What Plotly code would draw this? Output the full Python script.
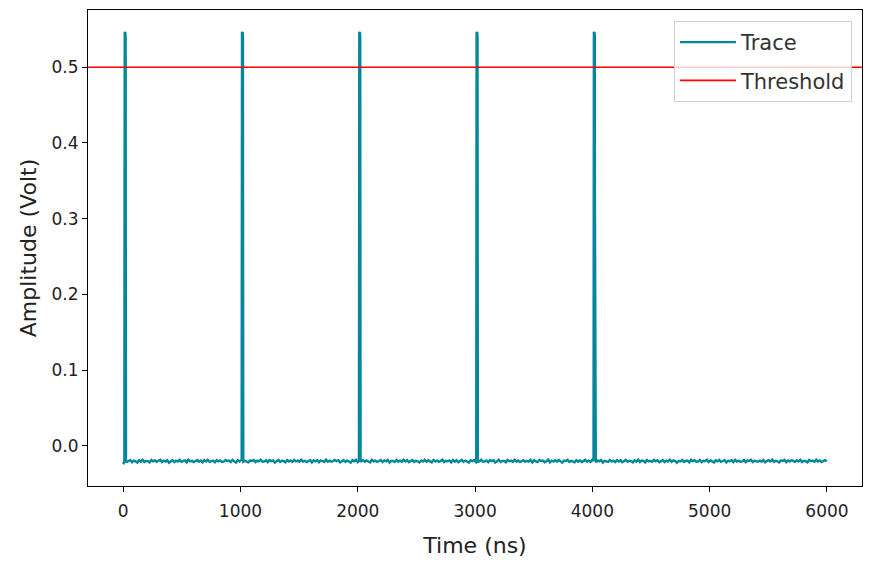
import numpy as np
import plotly.graph_objects as go

baseline_mv = [
    -24.5, -19.4, -21.3, -20.1, -18.8, -21.7, -19.6, -20.4, -22.1, -19.0, -20.8, -18.5, -21.2, -19.9, -20.3, -21.8, -18.7, -20.6, -19.3, -21.0,
    -20.2, -18.4, -21.5, -19.7, -20.9, -19.1, -22.3, -20.0, -18.9, -21.4, -19.5, -20.7, -18.6, -21.1, -20.4, -19.2, -21.9, -18.3, -20.5, -19.8,
    -21.6, -20.1, -18.8, -20.9, -19.4, -22.0, -19.0, -20.6, -18.5, -21.3, -20.2, -19.6, -21.7, -18.9, -20.4, -19.3, -21.2, -20.8, -18.6, -20.0,
    -19.5, -21.5, -18.7, -20.3, -22.2, -19.1, -20.7, -18.4, -21.0, -19.9, -20.5, -21.8, -19.2, -20.1, -18.8, -21.4, -19.7, -20.6, -18.3, -21.1,
    -20.9, -19.0, -21.6, -18.9, -20.2, -19.4, -22.1, -20.4, -18.5, -21.3, -19.8, -20.0, -21.9, -18.7, -20.7, -19.3, -21.2, -18.6, -20.5, -19.6,
    -21.0, -18.4, -20.8, -19.9, -21.5, -20.3, -18.8, -22.0, -19.2, -20.6, -18.9, -21.7, -19.5, -20.1, -21.4, -18.3, -20.9, -19.7, -21.1, -20.4,
    -18.6, -20.2, -19.1, -21.8, -20.0, -18.7, -21.3, -19.4, -20.7, -22.2, -19.0, -20.5, -18.5, -21.6, -19.8, -20.3, -18.9, -21.0, -19.3, -20.8,
    -21.9, -18.4, -20.6, -19.6, -21.2, -20.1, -18.8, -21.5, -19.2, -20.4, -18.6, -22.1, -19.9, -20.0, -21.4, -18.7, -20.9, -19.5, -21.1, -18.3,
    -20.7, -19.0, -21.7, -20.2, -18.9, -21.3, -19.7, -20.5, -22.0, -19.4, -20.8, -18.5, -21.0, -19.1, -20.3, -21.8, -18.8, -20.6, -19.6, -21.2,
    -20.0, -18.4, -21.5, -19.8, -20.4, -19.3, -21.9, -18.7, -20.9, -19.0, -21.6, -20.1, -18.6, -21.1, -19.5, -20.7, -22.3, -19.2, -20.2, -18.9,
    -21.4, -19.7, -20.5, -18.3, -21.0, -20.8, -19.4, -21.7, -18.8, -20.3, -19.1, -22.1, -20.6, -18.5, -21.3, -19.9, -20.0, -21.8, -18.7, -20.4,
    -19.6, -21.2, -18.4, -20.9, -19.3, -21.5, -20.2, -18.9, -21.1, -19.8, -20.7, -18.6, -22.0, -19.0, -20.5, -21.4, -18.8, -20.1, -19.5, -21.6,
    -20.3, -18.3, -21.9, -19.7, -20.8, -19.2, -21.0, -18.7, -20.6, -22.2, -19.4, -20.0, -18.5, -21.3, -19.9, -20.4, -21.7, -18.9, -20.9, -19.1,
    -21.5, -20.2, -18.6, -20.7, -19.6, -21.2, -18.4, -20.3, -21.8, -19.3, -20.5, -18.8, -22.1, -19.8, -20.1, -21.1, -18.7, -20.8, -19.5, -21.4,
    -18.9, -20.6, -19.0, -21.6, -20.4, -18.5, -21.0, -19.7, -20.2, -21.9, -19.2, -20.9, -18.3, -21.3, -19.4, -20.0, -22.0, -18.8, -20.7, -19.9,
    -21.2, -18.6, -20.5, -19.1, -21.7, -20.3, -18.9, -21.5, -19.6, -20.8, -18.4, -21.1, -19.3, -20.1, -22.3, -19.8, -20.6, -18.7, -21.4, -20.0,
    -19.5, -21.8, -18.5, -20.4, -19.0, -21.0, -20.9, -18.8, -21.6, -19.7, -20.2, -18.3, -21.3, -19.4, -20.7, -21.9, -19.2, -20.5, -18.6, -21.2,
    -20.1, -18.9, -22.1, -19.9, -20.3, -19.1, -21.5, -18.4, -20.8, -19.6, -21.1, -20.6, -18.7, -21.7, -19.3, -20.0, -18.5, -21.4, -19.8, -20.4,
    -21.0, -19.5, -20.9, -18.8, -21.8, -20.2, -19.0, -20.7, -18.3, -21.3, -19.7, -20.5, -22.0, -19.2, -20.1, -18.6, -21.6, -19.4, -20.8, -18.9,
    -20.3, -21.2, -19.1, -20.6, -18.4, -21.5, -19.9, -20.0, -21.9, -18.7, -20.4, -19.6, -21.1, -18.5, -20.7, -19.3, -21.4, -20.2, -19.0, -20.5,
]
trace_start_ns = 0
trace_end_ns = 5999

# pulses: start times and one pulse shape (offset in ns, amplitude in mV)
pulse_start_ns = [10, 1010, 2010, 3010, 4010]
pulse_offset_ns = [0, 1, 2, 3, 5, 7, 9, 11, 12, 13, 14]
pulse_mv = [-20.0, 200.0, 500.0, 547.0, 545.0, 544.0, 546.0, 540.0, 320.0, 40.0, -21.0]

threshold_v = 0.5

# assemble the trace
base_t = np.linspace(trace_start_ns, trace_end_ns, len(baseline_mv))
pts = []
for t, v in zip(base_t, baseline_mv):
    inside = any(s <= t <= s + pulse_offset_ns[-1] for s in pulse_start_ns)
    if not inside:
        pts.append((t, v / 1000))
for s in pulse_start_ns:
    for o, v in zip(pulse_offset_ns, pulse_mv):
        pts.append((s + o, v / 1000))
pts.sort()
time_ns = [p[0] for p in pts]
amp_v = [p[1] for p in pts]

# matplotlib-like 5% margins
xr = [trace_start_ns, trace_end_ns]
yr = [min(amp_v), max(amp_v)]
xpad = 0.05 * (xr[1] - xr[0])
ypad = 0.05 * (yr[1] - yr[0])

font = "DejaVu Sans"
fig = go.Figure()
fig.add_trace(go.Scatter(
    x=time_ns, y=amp_v, mode='lines', name='Trace', legendgroup='a',
    line=dict(color='#04879e', width=2.4)
))
fig.add_trace(go.Scatter(
    x=[xr[0] - xpad, xr[1] + xpad], y=[threshold_v, threshold_v],
    mode='lines', name='Threshold', legendgroup='b',
    line=dict(color='#ff0000', width=1.6)
))

axis_common = dict(
    showline=True, linecolor='black', linewidth=1.2, mirror=True,
    ticks='outside', ticklen=5, tickwidth=1.2, tickcolor='black',
    showgrid=False, zeroline=False, automargin=False,
    tickfont=dict(family=font, size=17, color='#222'),
    title_font=dict(family=font, size=22, color='#222'),
)
fig.update_xaxes(range=[xr[0] - xpad, xr[1] + xpad], dtick=1000, ticklabelstandoff=4,
                 title_text='Time (ns)', title_standoff=18, **axis_common)
fig.update_yaxes(range=[yr[0] - ypad, yr[1] + ypad], dtick=0.1, tickformat='.1f',
                 title_text='Amplitude (Volt)', title_standoff=8, **axis_common)

fig.update_layout(
    width=872, height=571,
    margin=dict(l=80, r=18, t=2, b=93),
    plot_bgcolor='white', paper_bgcolor='white',
    legend=dict(
        x=0.987, y=0.977, xanchor='right', yanchor='top',
        bgcolor='rgba(255,255,255,0.8)', bordercolor='#d0d0d0', borderwidth=1,
        font=dict(family=font, size=21, color='#333'),
        tracegroupgap=8, itemwidth=56,
    ),
)

fig.write_html("out.html")
